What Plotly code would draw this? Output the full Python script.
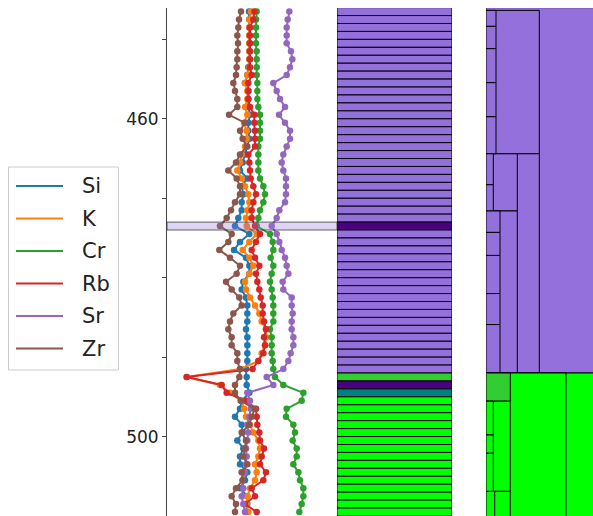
import plotly.graph_objects as go

# ---------------- data ----------------
depth = [446.5, 447.5, 448.5, 449.5, 450.5, 451.5, 452.5, 453.5, 454.5, 455.5,
         456.5, 457.5, 458.5, 459.5, 460.5, 461.5, 462.5, 463.5, 464.5, 465.5,
         466.5, 467.5, 468.5, 469.5, 470.5, 471.5, 472.5, 473.5, 474.5, 475.5,
         476.5, 477.5, 478.5, 479.5, 480.5, 481.5, 482.5, 483.5, 484.5, 485.5,
         486.5, 487.5, 488.5, 489.5, 490.5, 491.5, 492.5, 493.5, 494.5, 495.5,
         496.5, 497.5, 498.5, 499.5, 500.5, 501.5, 502.5, 503.5, 504.5, 505.5,
         506.5, 507.5, 508.5, 509.5]

elements = ["Si", "K", "Cr", "Rb", "Sr", "Zr"]
element_colors = ["#1f77b4", "#ff7f0e", "#2ca02c", "#d62728", "#9467bd", "#8c564b"]

si = [267, 268, 268, 268, 268, 268, 268, 265, 262, 255, 265, 265, 265, 270, 265, 265, 268, 262, 255, 248, 240,
      262, 245, 250, 245, 245, 235, 225, 268, 240, 222, 258, 268, 268, 250, 245, 258, 262, 262, 262, 258, 262, 262,
      262, 262, 258, 260, 260, 268, 245, 240, 225, 245, 248, 232, 250, 240, 240, 262, 255, 240, 262, 262, 258]
k = [273, 268, 268, 268, 268, 268, 268, 268, 262, 255, 262, 262, 255, 262, 252, 260, 260, 255, 245, 240, 232,
     245, 255, 265, 268, 262, 258, 260, 290, 268, 248, 268, 280, 268, 255, 258, 270, 285, 298, 305, 318, 318, 315,
     305, 295, 240, 80, 180, 210, 245, 252, 258, 270, 280, 295, 300, 295, 285, 290, 285, 270, 262, 260, 265]
cr = [290, 288, 288, 288, 288, 290, 290, 290, 290, 292, 292, 292, 295, 300, 300, 300, 300, 295, 295, 295, 295,
      300, 310, 315, 310, 300, 295, 290, 330, 338, 340, 332, 340, 335, 330, 335, 338, 340, 340, 340, 330, 335, 335,
      335, 338, 340, 345, 370, 430, 425, 380, 378, 400, 405, 398, 410, 410, 400, 415, 420, 430, 430, 425, 418]
rb = [283, 280, 270, 270, 270, 270, 270, 270, 275, 265, 265, 265, 270, 283, 283, 285, 285, 285, 265, 268, 270,
      272, 280, 288, 280, 275, 275, 285, 300, 288, 275, 285, 298, 288, 292, 298, 302, 308, 308, 312, 318, 312, 315,
      310, 295, 278, 80, 185, 200, 260, 288, 290, 292, 298, 300, 312, 305, 300, 318, 310, 275, 285, 255, 290]
sr = [388, 383, 380, 380, 380, 393, 397, 390, 380, 340, 350, 360, 375, 357, 375, 390, 390, 380, 370, 365, 370,
      378, 378, 378, 375, 358, 350, 335, 350, 358, 365, 375, 380, 385, 368, 370, 395, 395, 398, 395, 395, 400, 400,
      392, 385, 370, 320, 340, 262, 270, 272, 268, 262, 265, 262, 258, 260, 258, 255, 248, 250, 245, 250, 255]
zr = [243, 237, 235, 232, 234, 232, 232, 230, 228, 220, 225, 232, 232, 207, 255, 240, 248, 260, 240, 228, 205,
      230, 240, 240, 225, 213, 200, 180, 215, 205, 178, 210, 240, 230, 198, 215, 238, 245, 220, 210, 205, 215, 215,
      232, 232, 240, 238, 225, 225, 242, 285, 275, 268, 245, 258, 255, 250, 262, 245, 248, 228, 215, 228, 225]
series = [si, k, cr, rb, sr, zr]

highlight_top = 473
highlight_bottom = 474

# facies column (1-unit intervals)
facies_top = [446, 447, 448, 449, 450, 451, 452, 453, 454, 455, 456, 457, 458, 459, 460, 461,
              462, 463, 464, 465, 466, 467, 468, 469, 470, 471, 472, 473, 474, 475, 476, 477,
              478, 479, 480, 481, 482, 483, 484, 485, 486, 487, 488, 489, 490, 491, 492, 493,
              494, 495, 496, 497, 498, 499, 500, 501, 502, 503, 504, 505, 506, 507, 508, 509]
facies_color = (["mediumpurple"] * 27 + ["indigo"] + ["mediumpurple"] * 18 +
                ["limegreen", "indigo", "teal"] + ["lime"] * 15)

# hierarchical blocks (level extent, top, bottom, colour) - drawn largest first
block_level = [140, 53.3, 53.3, 31.3, 31.3,
               10, 10, 10, 10, 10,
               7.3, 7.3,
               14, 14, 14, 14, 14,
               140, 80, 24.3, 24.3, 24.3,
               7.3, 7.3, 7.3, 8.7]
block_top = [446.0, 446.35, 464.4, 464.4, 471.6,
             446.35, 448.36, 451.17, 455.45, 459.74,
             464.4, 468.3,
             471.6, 474.3, 477.2, 482.0, 485.9,
             492.0, 492.0, 492.0, 495.55, 506.9,
             495.55, 499.8, 502.1, 506.9]
block_bottom = [492.0, 464.4, 492.0, 471.6, 492.0,
                448.36, 451.17, 455.45, 459.74, 464.4,
                468.3, 471.6,
                474.3, 477.2, 482.0, 485.9, 492.0,
                512.0, 512.0, 495.55, 506.9, 512.0,
                499.8, 502.1, 506.9, 512.0]
block_color = (["mediumpurple"] * 17 +
               ["lime", "lime", "limegreen", "lime", "lime",
                "lime", "lime", "lime", "lime"])

# ---------------- figure ----------------
W, H = 593, 516
fig = go.Figure()

for name, vals, col in zip(elements, series, element_colors):
    fig.add_trace(go.Scatter(
        x=vals, y=depth, mode="lines+markers", name=name,
        line=dict(color=col, width=2), marker=dict(color=col, size=6.5),
        xaxis="x", yaxis="y", showlegend=False))

fig.add_trace(go.Bar(
    orientation="h", y=[t + 0.5 for t in facies_top], x=[1] * len(facies_top),
    width=[1] * len(facies_top), base=0,
    marker=dict(color=facies_color, line=dict(color="black", width=1)),
    xaxis="x2", yaxis="y2", showlegend=False, hoverinfo="skip"))

fig.add_trace(go.Bar(
    orientation="h",
    y=[(t + b) / 2 for t, b in zip(block_top, block_bottom)],
    x=block_level, width=[b - t for t, b in zip(block_top, block_bottom)], base=0,
    marker=dict(color=block_color, line=dict(color="black", width=1)),
    xaxis="x3", yaxis="y3", showlegend=False, hoverinfo="skip"))

yr = [510.0, 446.05]
ydom = [0, 1 - 8 / H]

fig.update_layout(
    width=W, height=H, margin=dict(l=0, r=0, t=0, b=0),
    paper_bgcolor="white", plot_bgcolor="white",
    barmode="overlay", showlegend=False,
    font=dict(family="DejaVu Sans", color="black"),
    xaxis=dict(domain=[167 / W, 337 / W], range=[21, 531], visible=False),
    yaxis=dict(domain=ydom, range=yr, showline=True, linecolor="#444", linewidth=1,
               ticks="outside", ticklen=4, tickcolor="#444",
               tickvals=[450, 460, 470, 480, 490, 500],
               ticktext=["", "460", "", "", "", "500"],
               tickfont=dict(size=17, color="#222"),
               showgrid=False, zeroline=False, anchor="x"),
    xaxis2=dict(domain=[337 / W, 452 / W], range=[0, 1], visible=False, anchor="y2"),
    yaxis2=dict(domain=ydom, range=yr, visible=False, anchor="x2"),
    xaxis3=dict(domain=[486 / W, 1], range=[0, 107], visible=False, anchor="y3"),
    yaxis3=dict(domain=ydom, range=yr, visible=False, anchor="x3"),
)

# highlighted interval on the log panel
fig.add_shape(type="rect", xref="x domain", yref="y", x0=0, x1=1,
              y0=highlight_top, y1=highlight_bottom,
              fillcolor="rgba(147,112,219,0.3)", line=dict(color="rgba(40,40,40,0.7)", width=1),
              layer="above")

# legend
fig.add_shape(type="rect", xref="paper", yref="paper",
              x0=8.5 / W, x1=118.5 / W, y0=1 - 370 / H, y1=1 - 167 / H,
              fillcolor="white", line=dict(color="#cccccc", width=1))
leg_y = [186, 218.5, 251, 283.5, 316, 348.5]
for name, col, yy in zip(elements, element_colors, leg_y):
    fig.add_shape(type="line", xref="paper", yref="paper",
                  x0=16 / W, x1=63 / W, y0=1 - yy / H, y1=1 - yy / H,
                  line=dict(color=col, width=2))
    fig.add_annotation(xref="paper", yref="paper", x=80 / W, y=1 - yy / H,
                       text=name, showarrow=False, xanchor="left", yanchor="middle",
                       font=dict(size=21, color="#222", family="DejaVu Sans"))

fig.write_html("out.html")
